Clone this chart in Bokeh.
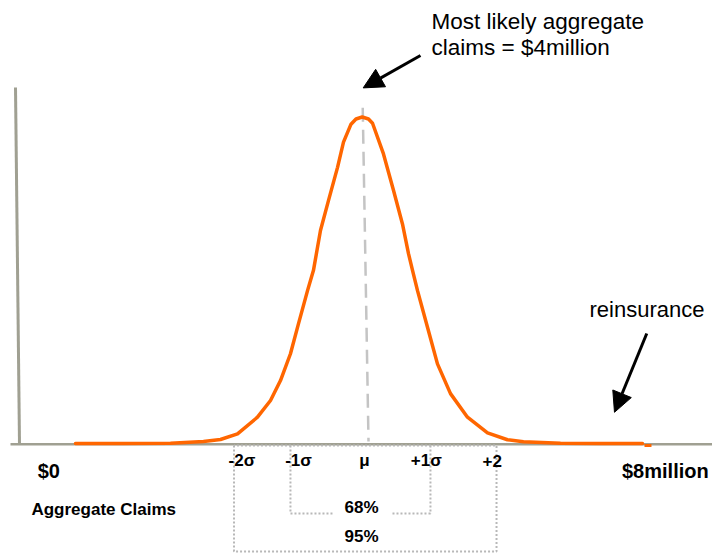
from bokeh.plotting import figure
from bokeh.models import Range1d, ColumnDataSource, Arrow, NormalHead
from bokeh.core.properties import value
from bokeh.embed import file_html
from bokeh.resources import INLINE

# ---- data -------------------------------------------------------------
# aggregate claims ($ million) and relative probability density (peak = 1)
claims = [0.714, 1.229, 1.800, 2.177, 2.371, 2.566, 2.794, 2.943, 3.057, 3.171,
          3.263, 3.366, 3.434, 3.514, 3.606, 3.709, 3.777, 3.863, 3.920, 3.991,
          4.063, 4.109, 4.234, 4.349, 4.451, 4.520, 4.566, 4.623, 4.737, 4.851,
          5.000, 5.194, 5.423, 5.651, 5.834, 6.257, 6.714, 7.194]
density = [0.0015, 0.0015, 0.0024, 0.0076, 0.0138, 0.031, 0.082, 0.133, 0.194, 0.276,
           0.368, 0.469, 0.531, 0.653, 0.745, 0.846, 0.923, 0.978, 0.994, 1.000,
           0.994, 0.981, 0.887, 0.775, 0.673, 0.582, 0.531, 0.469, 0.357, 0.245,
           0.154, 0.082, 0.034, 0.013, 0.0067, 0.0024, 0.0015, 0.0015]
# small reinsurance tail piece
tail_x = [7.217, 7.297]
tail_y = [-0.0046, -0.0046]

mean_claims = 4.0          # most likely aggregate claims ($ million)
max_claims = 8.0
sigma_labels = ["-2σ", "-1σ", "μ", "+1σ", "+2"]
sigma_pos = [2.617, 3.263, 4.017, 4.723, 5.477]
band95 = [2.526, 5.526]
band68 = [3.171, 4.771]
band_labels = ["68%", "95%"]

# ---- figure -----------------------------------------------------------
p = figure(width=712, height=553, output_backend="svg", toolbar_location=None,
           x_range=Range1d(-0.142857, 7.99429), y_range=Range1d(-0.33486, 1.35627),
           min_border=0)
p.axis.visible = False
p.grid.visible = False
p.outline_line_color = None
p.background_fill_color = "white"
p.border_fill_color = "white"

AXIS = "#a0a092"
DOT = "#b8b8b8"
FONT = value("Liberation Sans")
dy = 0.018   # text baseline correction

# axes lines
p.segment(x0=[-0.0286], y0=[-0.0006], x1=[max_claims], y1=[-0.0006],
          line_color=AXIS, line_width=2.5)
p.segment(x0=[0.0286], y0=[1.090], x1=[0.0743], y1=[0.0],
          line_color=AXIS, line_width=3)

# confidence brackets (dotted)
b95_bottom, b68_bottom, top = -0.3287, -0.2125, -0.0046
p.multi_line(xs=[[band95[0], band95[0], band95[1], band95[1], band95[0]],
                 [band68[0], band68[0], 3.663],
                 [4.337, band68[1], band68[1]]],
             ys=[[top, b95_bottom, b95_bottom, top, top],
                 [top, b68_bottom, b68_bottom],
                 [b68_bottom, b68_bottom, top]],
             line_color=DOT, line_width=2, line_dash="2 2")

# dashed line at the mean
p.segment(x0=[mean_claims - 0.003], y0=[1.028], x1=[mean_claims + 0.063], y1=[0.0076],
          line_color="#c4c4c4", line_width=2.5, line_dash="14 8")

# distribution curve
src = ColumnDataSource(dict(x=claims, y=density))
p.line("x", "y", source=src, line_color="#ff6600", line_width=3.5,
       line_join="round", line_cap="round")
p.line(tail_x, tail_y, line_color="#ff6600", line_width=3)

# arrows
p.add_layout(Arrow(x_start=4.657, y_start=1.188, x_end=4.002, y_end=1.089,
                   line_color="black", line_width=3,
                   end=NormalHead(size=20, fill_color="black", line_color="black")))
p.add_layout(Arrow(x_start=7.243, y_start=0.338, x_end=6.874, y_end=0.097,
                   line_color="black", line_width=3,
                   end=NormalHead(size=20, fill_color="black", line_color="black")))

# sigma labels
p.text(x=sigma_pos, y=[-0.0688 + dy] * len(sigma_pos), text=sigma_labels,
       text_align="center", text_baseline="alphabetic", text_font=FONT,
       text_font_style="bold", text_font_size="17px", text_color="black")
p.text(x=[3.983, 3.983], y=[-0.2135 + dy, -0.3021 + dy], text=band_labels,
       text_align="center", text_baseline="alphabetic", text_font=FONT,
       text_font_style="bold", text_font_size="17px", text_color="black")
p.text(x=[0.211], y=[-0.217 + dy], text=["Aggregate Claims"],
       text_align="left", text_baseline="alphabetic", text_font=FONT,
       text_font_style="bold", text_font_size="17px", text_color="black")
p.text(x=[0.409], y=[-0.1015 + dy], text=["$0"],
       text_align="center", text_baseline="alphabetic", text_font=FONT,
       text_font_style="bold", text_font_size="20px", text_color="black")
p.text(x=[6.96], y=[-0.1015 + dy], text=["$8million"],
       text_align="left", text_baseline="alphabetic", text_font=FONT,
       text_font_style="bold", text_font_size="20px", text_color="black")

# annotations
p.text(x=[4.783, 4.783], y=[1.2737 + dy, 1.1933 + dy],
       text=["Most likely aggregate", "claims = $4million"],
       text_align="left", text_baseline="alphabetic", text_font=FONT,
       text_font_size="22.5px", text_color="black")
p.text(x=[6.589], y=[0.393 + dy], text=["reinsurance"],
       text_align="left", text_baseline="alphabetic", text_font=FONT,
       text_font_size="22px", text_color="black")

open("out.html", "w").write(file_html(p, INLINE))
